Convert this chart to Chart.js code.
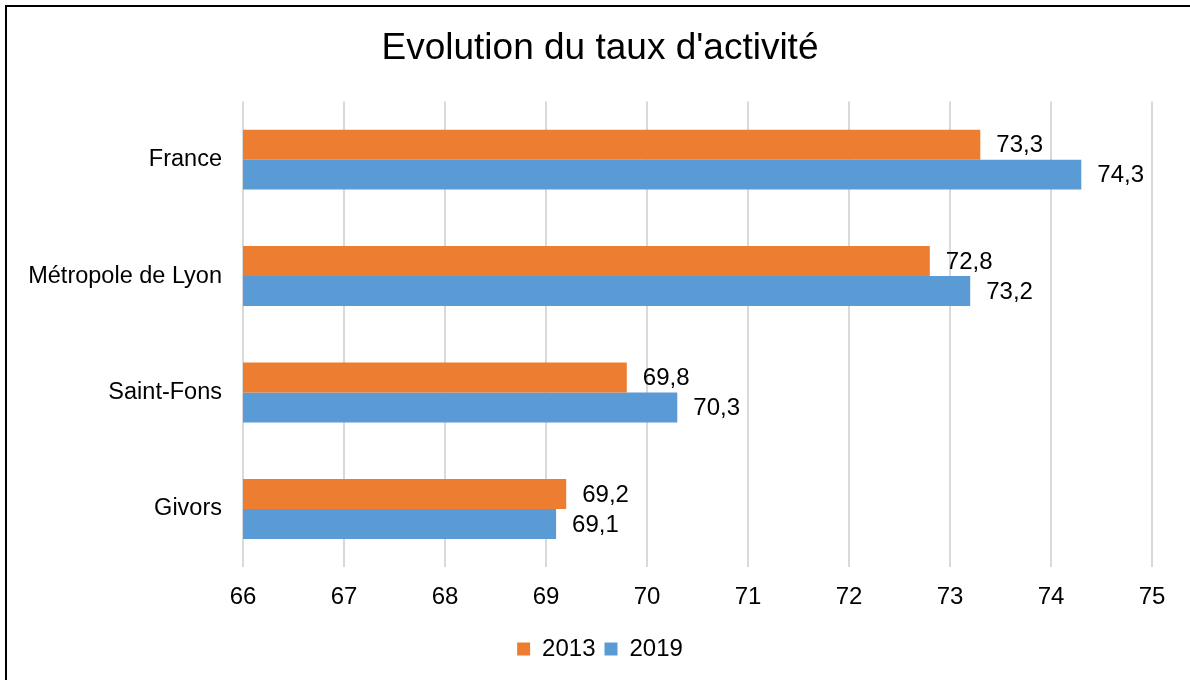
<!DOCTYPE html>
<html>
<head>
<meta charset="utf-8">
<script src="https://cdn.jsdelivr.net/npm/chart.js@4"></script>
<style>
  html, body { margin: 0; padding: 0; background: #fff; overflow: hidden; }
  #wrap { position: relative; width: 1190px; height: 680px; }
  #frame {
    position: absolute; left: 5px; top: 5px; width: 1200px; height: 700px;
    border-top: 2px solid #000; border-left: 2px solid #000; pointer-events: none;
  }
</style>
</head>
<body>
<div id="wrap">
  <canvas id="chart-taux"></canvas>
  <div id="frame"></div>
</div>
<script>
// donnees
const categories = ['France', 'Métropole de Lyon', 'Saint-Fons', 'Givors'];
const taux2013 = [73.3, 72.8, 69.8, 69.2];
const taux2019 = [74.3, 73.2, 70.3, 69.1];
const xMin = 66;
const xMax = 75;

const FONT = '"Liberation Sans", Arial, sans-serif';

// etiquettes de valeur a droite des barres
const valueLabels = {
    id: 'valueLabels',
    afterDatasetsDraw: function(chart) {
        const ctx = chart.ctx;
        ctx.save();
        ctx.font = '24px ' + FONT;
        ctx.fillStyle = '#000';
        ctx.textAlign = 'left';
        ctx.textBaseline = 'middle';
        chart.data.datasets.forEach((ds, i) => {
            chart.getDatasetMeta(i).data.forEach((bar, j) => {
                const txt = ds.data[j].toFixed(1).replace('.', ',');
                ctx.fillText(txt, bar.x + 16, bar.y + 1);
            });
        });
        ctx.restore();
    }
};

new Chart(document.getElementById('chart-taux'), {
    type: 'bar',
    data: {
        labels: categories,
        datasets: [
            { label: '2013', data: taux2013, backgroundColor: '#ED7D31' },
            { label: '2019', data: taux2019, backgroundColor: '#5B9BD5' }
        ]
    },
    options: {
        indexAxis: 'y',
        responsive: true,
        maintainAspectRatio: false,
        animation: false,
        categoryPercentage: 0.515,
        barPercentage: 1,
        layout: { padding: { left: 10, right: 0, top: 0, bottom: 9 } },
        scales: {
            x: {
                min: xMin,
                max: xMax,
                ticks: { stepSize: 1, color: '#000', padding: 16, font: { family: FONT, size: 24 } },
                grid: { color: '#D9D9D9', lineWidth: 2, drawTicks: false },
                border: { display: false },
                afterFit: function(scale) { scale.paddingRight = 38; }
            },
            y: {
                ticks: { color: '#000', padding: 21, font: { family: FONT, size: 23.5 } },
                grid: { display: false, drawTicks: false },
                border: { display: false },
                afterFit: function(scale) { scale.width = 233; }
            }
        },
        plugins: {
            title: {
                display: true,
                text: "Evolution du taux d'activité",
                color: '#000',
                font: { family: FONT, size: 37, weight: 'normal' },
                padding: { top: 27, bottom: 30 }
            },
            legend: {
                position: 'bottom',
                labels: {
                    boxWidth: 13,
                    boxHeight: 13,
                    padding: 9,
                    color: '#000',
                    font: { family: FONT, size: 24 }
                }
            },
            tooltip: { enabled: false }
        }
    },
    plugins: [valueLabels]
});
</script>
</body>
</html>
